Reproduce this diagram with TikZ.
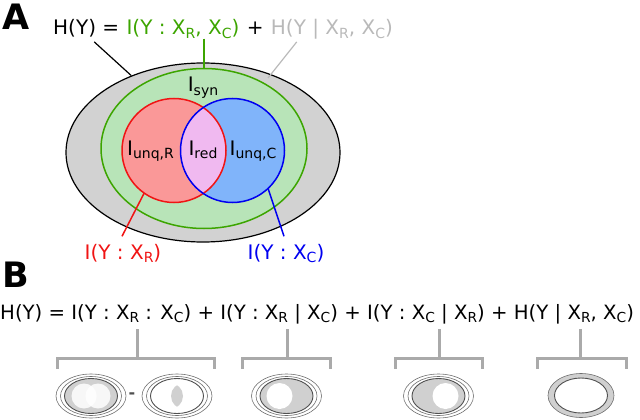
\documentclass[tikz,border=0pt]{standalone}
\usepackage{fontspec}
\setmainfont{DejaVu Sans}
\usetikzlibrary{shapes.geometric}
\definecolor{ograyfill}{RGB}{210,210,210}
\definecolor{greenfill}{RGB}{184,228,184}
\definecolor{redfill}{RGB}{250,152,152}
\definecolor{bluefill}{RGB}{128,180,250}
\definecolor{pinkfill}{RGB}{240,185,240}
\definecolor{tgreen}{RGB}{60,165,0}
\definecolor{tred}{RGB}{240,20,20}
\definecolor{tblue}{RGB}{0,0,240}
\definecolor{lgray}{RGB}{185,185,185}
\definecolor{brkgray}{RGB}{170,170,170}
\definecolor{minifill}{RGB}{208,208,208}
\definecolor{miniline}{RGB}{110,110,110}
\definecolor{minidark}{RGB}{80,80,80}
\newcommand\dn[1]{\raisebox{-0.3ex}{\scalebox{0.7}{#1}}}
\tikzset{
  eq/.style={anchor=base west, inner sep=0pt},
  lbl/.style={anchor=base},
  panel/.style={anchor=base west, inner sep=0pt, font=\fontsize{35}{35}\selectfont\bfseries},
  brk/.style={draw=brkgray, line width=3pt},
  thinov/.style={draw=miniline, line width=0.6pt},
  innerov/.style={draw=minidark, line width=0.9pt},
  miniframe/.pic={
    \draw[thinov] (0,0) ellipse [x radius=35pt, y radius=22pt];
    \draw[thinov] (0,0) ellipse [x radius=30.5pt, y radius=19.5pt];
  }
}
\begin{document}
\begin{tikzpicture}[x=1pt,y=-1pt, font=\fontsize{20}{24}\selectfont]
\useasboundingbox (0,0) rectangle (640,420);

% ---------- Panel A ----------
\node[panel] (pa) at (2,30) {A};

\node[ellipse, draw=black, fill=ograyfill, line width=1.2pt,
      minimum width=274pt, minimum height=179pt, inner sep=0pt] (outer) at (203,152.5) {};
\node[ellipse, draw=tgreen, fill=greenfill, line width=1.5pt,
      minimum width=206pt, minimum height=160pt, inner sep=0pt] (grn) at (204,148.5) {};
\node[circle, fill=redfill, minimum size=104pt, inner sep=0pt] (rc) at (174,150.5) {};
\node[circle, fill=bluefill, minimum size=104pt, inner sep=0pt] (bc) at (232.5,150.5) {};
\begin{scope}
  \clip (rc.center) circle [radius=52pt];
  \fill[pinkfill] (bc.center) circle [radius=52pt];
\end{scope}
\draw[tred, line width=1.5pt] (rc.center) circle [radius=52pt];
\draw[tblue, line width=1.5pt] (bc.center) circle [radius=52pt];

\node[lbl] (isyn) at (203,92) {I\dn{syn}};
\node[lbl] (iunqr) at (150.5,155) {I\dn{unq,R}};
\node[lbl] (ired) at (203,155) {I\dn{red}};
\node[lbl] (iunqc) at (253,155) {I\dn{unq,C}};

\node[lbl, text=tred] (lr) at (123,259) {I(Y : X\dn{R})};
\node[lbl, text=tblue] (lb) at (286,259) {I(Y : X\dn{C})};
\draw[tred, line width=1.5pt] (rc.235) -- ([xshift=-1pt,yshift=4pt]lr.north);
\draw[tblue, line width=1.5pt] (bc.313) -- ([xshift=-2pt,yshift=4pt]lb.north);

% top equation
\node[eq] (hy) at (53,35) {H(Y) =};
\node[eq, text=tgreen] (ig) at ([xshift=7pt]hy.base east) {I(Y : X\dn{R}, X\dn{C})};
\node[eq] (pl) at ([xshift=7pt]ig.base east) {+};
\node[eq, text=lgray] (hg) at ([xshift=7pt]pl.base east) {H(Y | X\dn{R}, X\dn{C})};

\coordinate (band) at (268,78);
\draw[black, line width=1.2pt] (outer.133) -- ([xshift=8pt,yshift=-4pt]hy.south);
\draw[tgreen, line width=1.5pt] (ig.south -| grn.north) -- (grn.north);
\draw[lgray, line width=1.2pt] (band) -- ([xshift=26pt,yshift=-2pt]hg.south west);

% ---------- Panel B ----------
\node[panel] (pb) at (2,287) {B};
\node[eq, font=\fontsize{19.7}{23}\selectfont] (eqb) at (0,319) {H(Y) = I(Y : X\dn{R} : X\dn{C}) + I(Y : X\dn{R} | X\dn{C}) + I(Y : X\dn{C} | X\dn{R}) + H(Y | X\dn{R}, X\dn{C})};

% brackets
\draw[brk] (137,329) -- (137,358);
\draw[brk] (57,369) -- (57,358) -- (214,358) -- (214,369);
\draw[brk] (287,329) -- (287,358);
\draw[brk] (242,369) -- (242,358) -- (330,358) -- (330,369);
\draw[brk] (439,329) -- (439,358);
\draw[brk] (395,369) -- (395,358) -- (482,358) -- (482,369);
\draw[brk] (580,329) -- (580,358);
\draw[brk] (537,369) -- (537,358) -- (626,358) -- (626,369);

% mini 1: union
\coordinate (m1) at (91,396);
\pic at (m1) {miniframe};
\fill[minifill] (m1) ellipse [x radius=26.5pt, y radius=17.5pt];
\fill[white, opacity=0.85] ([xshift=-7pt]m1) circle [radius=12.5pt];
\fill[white, opacity=0.85] ([xshift=7pt]m1) circle [radius=12.5pt];
\draw[innerov] (m1) ellipse [x radius=26.5pt, y radius=17.5pt];

\node[text=minidark, font=\fontsize{16}{16}\selectfont\bfseries] (minus) at (132,396) {-};

% mini 2: intersection
\coordinate (m2) at (177,396);
\pic at (m2) {miniframe};
\draw[innerov] (m2) ellipse [x radius=26.5pt, y radius=17.5pt];
\begin{scope}
  \clip ([xshift=-7pt]m2) circle [radius=13pt];
  \fill[minifill] ([xshift=7pt]m2) circle [radius=13pt];
\end{scope}

% mini 3
\coordinate (m3) at (286.5,396);
\pic at (m3) {miniframe};
\fill[minifill] (m3) ellipse [x radius=26.5pt, y radius=17.5pt];
\fill[white] ([xshift=-7pt]m3) circle [radius=13pt];
\draw[innerov] (m3) ellipse [x radius=26.5pt, y radius=17.5pt];

% mini 4
\coordinate (m4) at (438.5,396);
\pic at (m4) {miniframe};
\fill[minifill] (m4) ellipse [x radius=26.5pt, y radius=17.5pt];
\fill[white] ([xshift=7pt]m4) circle [radius=13pt];
\draw[innerov] (m4) ellipse [x radius=26.5pt, y radius=17.5pt];

% mini 5
\coordinate (m5) at (581,395.5);
\draw[thinov, fill=minifill] (m5) ellipse [x radius=33pt, y radius=22pt];
\draw[innerov, fill=white] (m5) ellipse [x radius=26.5pt, y radius=17.5pt];
\end{tikzpicture}
\end{document}
